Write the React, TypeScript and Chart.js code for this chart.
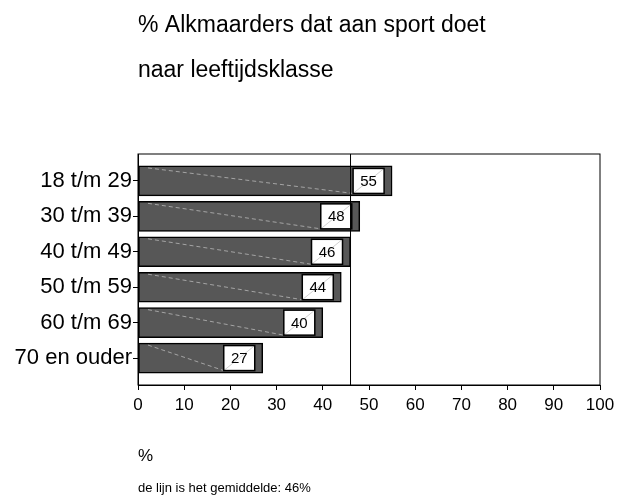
import React, { useEffect, useRef } from "react";
import { Chart, registerables } from "chart.js";

Chart.register(...registerables);

const categories = ["18 t/m 29", "30 t/m 39", "40 t/m 49", "50 t/m 59", "60 t/m 69", "70 en ouder"];
const values = [55, 48, 46, 44, 40, 27];
const average = 46;
const titleLines = ["% Alkmaarders dat aan sport doet", "naar leeftijdsklasse"];
const xAxisTitle = "%";
const footnote = "de lijn is het gemiddelde: 46%";

const FONT = "'Liberation Sans', Arial, Helvetica, sans-serif";

const decorPlugin = {
  id: "decor",
  afterDatasetsDraw(chart: any) {
    const { ctx, chartArea, scales } = chart;
    const meta = chart.getDatasetMeta(0);
    ctx.save();
    meta.data.forEach((el: any, i: number) => {
      const boxW = 31;
      const boxH = 25;
      const right = el.x - 8;
      const left = right - boxW;
      const top = el.y - boxH / 2;
      const barTop = el.y - 15;
      // faint dashed diagonal
      ctx.strokeStyle = "rgba(215,215,215,0.6)";
      ctx.lineWidth = 1;
      ctx.setLineDash([4, 3]);
      ctx.beginPath();
      ctx.moveTo(chartArea.left + 10, barTop + 2);
      ctx.lineTo(left, top + boxH);
      ctx.stroke();
      ctx.setLineDash([]);
      // box
      ctx.fillStyle = "#ffffff";
      ctx.fillRect(left, top, boxW, boxH);
      ctx.strokeStyle = "rgba(190,190,190,0.7)";
      ctx.beginPath();
      ctx.moveTo(left, top + boxH);
      ctx.lineTo(right, top);
      ctx.stroke();
      ctx.strokeStyle = "#000000";
      ctx.lineWidth = 1.5;
      ctx.strokeRect(left, top, boxW, boxH);
      ctx.fillStyle = "#000000";
      ctx.font = `15px ${FONT}`;
      ctx.textAlign = "center";
      ctx.textBaseline = "middle";
      ctx.fillText(String(values[i]), left + boxW / 2, el.y + 1);
    });
    // mean line
    const mx = scales.x.getPixelForValue(average);
    ctx.strokeStyle = "#000000";
    ctx.lineWidth = 1;
    ctx.beginPath();
    ctx.moveTo(mx, chartArea.top);
    ctx.lineTo(mx, chartArea.bottom);
    ctx.stroke();
    // frame
    ctx.strokeRect(chartArea.left, chartArea.top, chartArea.right - chartArea.left, chartArea.bottom - chartArea.top);
    ctx.restore();
  },
  afterDraw(chart: any) {
    const { ctx } = chart;
    ctx.save();
    ctx.fillStyle = "#000000";
    ctx.textAlign = "left";
    ctx.textBaseline = "alphabetic";
    ctx.font = `23px ${FONT}`;
    ctx.fillText(titleLines[0], 138, 32);
    ctx.fillText(titleLines[1], 138, 77);
    ctx.font = `17px ${FONT}`;
    ctx.fillText(xAxisTitle, 138, 461);
    ctx.font = `13px ${FONT}`;
    ctx.fillText(footnote, 138, 492);
    ctx.restore();
  },
};

export default function App() {
  const ref = useRef<HTMLCanvasElement | null>(null);
  useEffect(() => {
    if (!ref.current) return;
    const chart = new Chart(ref.current, {
      type: "bar",
      data: {
        datasets: [
          {
            data: values.map((v, i) => ({ x: v, y: i })),
            backgroundColor: "#575757",
            borderColor: "#000000",
            borderWidth: 1.5,
            borderSkipped: false,
            barThickness: 30,
          },
        ],
      },
      options: {
        indexAxis: "y",
        animation: false,
        responsive: true,
        maintainAspectRatio: false,
        layout: { padding: { top: 154, right: 17, left: 0, bottom: 83 } },
        plugins: { legend: { display: false }, tooltip: { enabled: false }, title: { display: false } },
        scales: {
          x: {
            type: "linear",
            min: 0,
            max: 100,
            offset: false,
            afterFit: (s: any) => {
              s.height = 30;
              s.paddingRight = 0;
              s.paddingLeft = 0;
            },
            ticks: { stepSize: 10, color: "#000", font: { family: FONT, size: 17 }, padding: 5, maxRotation: 0 },
            grid: { drawOnChartArea: false, drawTicks: true, tickLength: 5, color: "#000", offset: false },
            border: { display: true, color: "#000", width: 1 },
          },
          y: {
            type: "linear",
            reverse: true,
            min: -0.76,
            max: 5.76,
            offset: false,
            afterFit: (s: any) => {
              s.width = 138;
              s.paddingTop = 0;
              s.paddingBottom = 0;
            },
            ticks: {
              stepSize: 1,
              includeBounds: false,
              color: "#000",
              font: { family: FONT, size: 22 },
              padding: 1,
              callback: (v: any) => {
                const n = Number(v);
                return Number.isInteger(n) && n >= 0 && n < categories.length ? categories[n] : "";
              },
            },
            grid: { drawOnChartArea: false, drawTicks: true, tickLength: 5, color: "#000", offset: false },
            border: { display: true, color: "#000", width: 1 },
          },
        },
      } as any,
      plugins: [decorPlugin],
    });
    return () => chart.destroy();
  }, []);
  return (
    <div style={{ position: "absolute", left: 0, top: 0, width: 617, height: 498, background: "#fff" }}>
      <canvas ref={ref} />
    </div>
  );
}
